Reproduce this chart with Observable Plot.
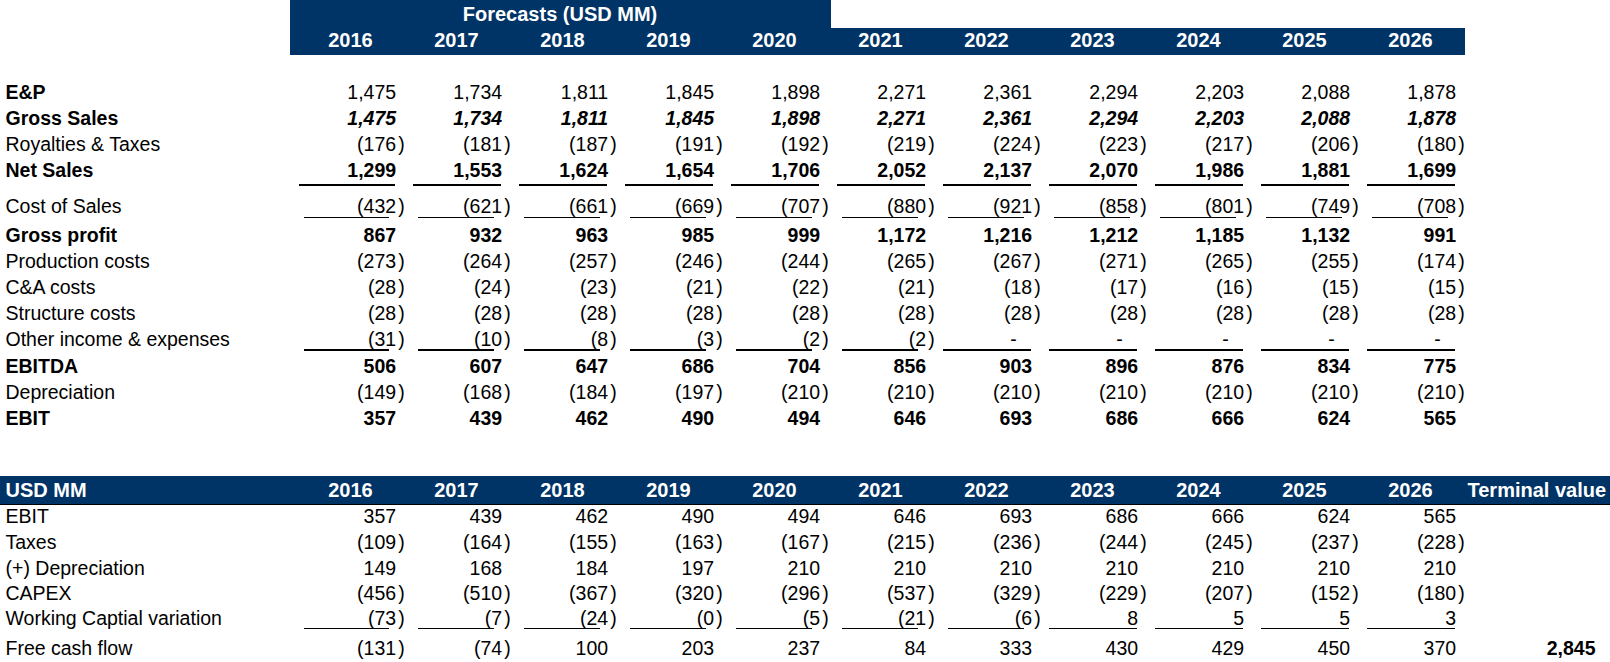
<!DOCTYPE html>
<html>
<head>
<meta charset="utf-8">
<script src="https://cdn.jsdelivr.net/npm/d3@7"></script>
<script src="https://cdn.jsdelivr.net/npm/@observablehq/plot@0.6"></script>
<style>
  html, body { margin: 0; padding: 0; background: #ffffff; }
</style>
</head>
<body>
<div id="chart"></div>
<script>
// ---------------- DATA ----------------
const years = ["2016", "2017", "2018", "2019", "2020", "2021", "2022", "2023", "2024", "2025", "2026"];
const forecastTitle = "Forecasts (USD MM)";
const lowerHeaderLabel = "USD MM";
const terminalLabel = "Terminal value";

// Upper table (income statement)
const epValues            = [1475, 1734, 1811, 1845, 1898, 2271, 2361, 2294, 2203, 2088, 1878];
const grossSalesValues    = [1475, 1734, 1811, 1845, 1898, 2271, 2361, 2294, 2203, 2088, 1878];
const royaltiesValues     = [-176, -181, -187, -191, -192, -219, -224, -223, -217, -206, -180];
const netSalesValues      = [1299, 1553, 1624, 1654, 1706, 2052, 2137, 2070, 1986, 1881, 1699];
const costOfSalesValues   = [-432, -621, -661, -669, -707, -880, -921, -858, -801, -749, -708];
const grossProfitValues   = [867, 932, 963, 985, 999, 1172, 1216, 1212, 1185, 1132, 991];
const productionValues    = [-273, -264, -257, -246, -244, -265, -267, -271, -265, -255, -174];
const caCostsValues       = [-28, -24, -23, -21, -22, -21, -18, -17, -16, -15, -15];
const structureValues     = [-28, -28, -28, -28, -28, -28, -28, -28, -28, -28, -28];
const otherIncomeValues   = [-31, -10, -8, -3, -2, -2, 0, 0, 0, 0, 0];
const ebitdaValues        = [506, 607, 647, 686, 704, 856, 903, 896, 876, 834, 775];
const depreciationValues  = [-149, -168, -184, -197, -210, -210, -210, -210, -210, -210, -210];
const ebitValues          = [357, 439, 462, 490, 494, 646, 693, 686, 666, 624, 565];

// Lower table (free cash flow)
const taxesValues         = [-109, -164, -155, -163, -167, -215, -236, -244, -245, -237, -228];
const plusDepValues       = [149, 168, 184, 197, 210, 210, 210, 210, 210, 210, 210];
const capexValues         = [-456, -510, -367, -320, -296, -537, -329, -229, -207, -152, -180];
const workingCapValues    = [-73, -7, -24, -0.3, -5, -21, -6, 8, 5, 5, 3];
const fcfValues           = [-131, -74, 100, 203, 237, 84, 333, 430, 429, 450, 370];
const terminalValue       = 2845;

const upperRows = [
  ["E&P", epValues],
  ["Gross Sales", grossSalesValues],
  ["Royalties & Taxes", royaltiesValues],
  ["Net Sales", netSalesValues],
  ["Cost of Sales", costOfSalesValues],
  ["Gross profit", grossProfitValues],
  ["Production costs", productionValues],
  ["C&A costs", caCostsValues],
  ["Structure costs", structureValues],
  ["Other income & expenses", otherIncomeValues],
  ["EBITDA", ebitdaValues],
  ["Depreciation", depreciationValues],
  ["EBIT", ebitValues]
];
const lowerRows = [
  ["EBIT", ebitValues],
  ["Taxes", taxesValues],
  ["(+) Depreciation", plusDepValues],
  ["CAPEX", capexValues],
  ["Working Captial variation", workingCapValues],
  ["Free cash flow", fcfValues]
];

// ---------------- LAYOUT & STYLE ----------------
const navy = "#003366";
const FONT = 19.5;
const HEAD_FONT = 20;
const colW = 106.7, colStart = 286;           // column bands
const rowUnit = 26, firstRowY = 92.5;         // row spacing
const cols = [...years, "TV"];

// extra spacing (in row units) after some rows, like Excel row heights
const gapAfter = {
  upper: {"Net Sales": 0.36, "Cost of Sales": 0.13, "Other income & expenses": 0.05, "EBIT": 1.77},
  lower: {"Taxes": -0.02, "(+) Depreciation": -0.03, "CAPEX": -0.02, "Working Captial variation": 0.12}
};
const boldLabels = new Set(["E&P", "Gross Sales", "Net Sales", "Gross profit", "EBITDA", "EBIT"]);
const valueFont = {"Gross Sales": "bolditalic", "Net Sales": "bold", "Gross profit": "bold", "EBITDA": "bold", "EBIT": "bold"};
const underlines = [
  {table: "upper", label: "Net Sales", strokeWidth: 2, offset: 0.53},
  {table: "upper", label: "Cost of Sales", strokeWidth: 1, offset: 0.44},
  {table: "upper", label: "Other income & expenses", strokeWidth: 2, offset: 0.38},
  {table: "lower", label: "Working Captial variation", strokeWidth: 1, offset: 0.36}
];

const rForecast = -3, rYears = -2;
let r = 0;
const rows = [];
for (const [label, values] of upperRows) {
  rows.push({table: "upper", label, values, r,
             labelBold: boldLabels.has(label), font: valueFont[label] || "normal"});
  r += 1 + (gapAfter.upper[label] || 0);
}
const rLowerHeader = r;
r += 1;
for (const [label, values] of lowerRows) {
  rows.push({table: "lower", label, values, r, labelBold: false, font: "normal"});
  r += 1 + (gapAfter.lower[label] || 0);
}
const rFcf = rows.find(d => d.table === "lower" && d.label === "Free cash flow").r;

const cells = rows.flatMap(row => years.map((col, i) => ({
  col, i, r: row.r, v: row.values[i], font: row.font, table: row.table, label: row.label
})));

const fmt = d3.format(",.0f");
const valueDx = colW / 2 - 0.7;   // right edge of numbers inside the band

function valueMarks(font) {
  const fontWeight = font === "normal" ? "normal" : "bold";
  const fontStyle = font === "bolditalic" ? "italic" : "normal";
  const base = {x: "col", y: "r", fontSize: FONT, fontWeight, fontStyle, fill: "#000"};
  const sel = cells.filter(c => c.font === font);
  return [
    Plot.text(sel.filter(c => c.v > 0), {...base, text: d => fmt(d.v), textAnchor: "end", dx: valueDx}),
    Plot.text(sel.filter(c => c.v < 0), {...base, text: d => "(" + fmt(-d.v), textAnchor: "end", dx: valueDx}),
    Plot.text(sel.filter(c => c.v < 0), {...base, text: () => ")", textAnchor: "start", dx: valueDx + 2.2}),
    Plot.text(sel.filter(c => c.v === 0), {...base, text: () => "-", textAnchor: "end", dx: colW / 2 - 16})
  ];
}

function underlineMarks() {
  const marks = [];
  for (const u of underlines) {
    const sel = cells.filter(c => c.table === u.table && c.label === u.label);
    const groups = [
      {f: c => c.v >= 0 && c.i > 0, insetLeft: 17, insetRight: 0.7},
      {f: c => c.v >= 0 && c.i === 0, insetLeft: 9, insetRight: 0.7},
      {f: c => c.v < 0 && c.i > 0, insetLeft: 22, insetRight: 7.7},
      {f: c => c.v < 0 && c.i === 0, insetLeft: 14, insetRight: 6.7}
    ];
    for (const g of groups) {
      marks.push(Plot.tickY(sel.filter(g.f), {
        x: "col", y: d => d.r + u.offset, stroke: "#000", strokeWidth: u.strokeWidth,
        insetLeft: g.insetLeft, insetRight: g.insetRight, shapeRendering: "crispEdges"
      }));
    }
  }
  return marks;
}

const headerText = {fontSize: HEAD_FONT, fontWeight: "bold", fill: "#fff"};
const forecastCols = years.slice(0, 5);

const chart = Plot.plot({
  width: 1610,
  height: 662,
  margin: 0,
  x: {type: "band", domain: cols, range: [colStart, colStart + cols.length * colW], padding: 0, axis: null},
  y: {type: "linear", domain: [0, 1], range: [firstRowY, firstRowY + rowUnit], axis: null},
  style: {fontFamily: "'Liberation Sans', Arial, sans-serif", fontSize: FONT + "px", background: "#fff", color: "#000"},
  marks: [
    // upper header: forecasts box + years bar
    Plot.barY(forecastCols.slice(0, 4), {x: d => d, y1: rForecast - 0.5, y2: rForecast + 0.5, fill: navy, insetTop: -1.5, shapeRendering: "crispEdges"}),
    Plot.barY(forecastCols.slice(4), {x: d => d, y1: rForecast - 0.5, y2: rForecast + 0.5, fill: navy, insetTop: -1.5, insetRight: -10.5, shapeRendering: "crispEdges"}),
    Plot.barY(years.slice(0, 10), {x: d => d, y1: rYears - 0.5, y2: rYears + 0.5, fill: navy, insetBottom: -1.5, shapeRendering: "crispEdges"}),
    Plot.barY(years.slice(10), {x: d => d, y1: rYears - 0.5, y2: rYears + 0.5, fill: navy, insetBottom: -1.5, insetRight: -9.3, shapeRendering: "crispEdges"}),
    // lower header full-width bar
    Plot.rect([lowerHeaderLabel], {y1: rLowerHeader - 0.5, y2: rLowerHeader + 0.5, fill: navy, insetTop: -1.5, shapeRendering: "crispEdges"}),
    Plot.ruleY([rLowerHeader + 0.5], {stroke: "#000", strokeWidth: 1, shapeRendering: "crispEdges"}),

    // header texts
    Plot.text([forecastTitle], {...headerText, x: () => years[2], y: rForecast, text: d => d, dx: 4.5}),
    Plot.text(years, {...headerText, x: d => d, y: rYears, text: d => d, dx: 7}),
    Plot.text(years, {...headerText, x: d => d, y: rLowerHeader, text: d => d, dx: 7}),
    Plot.text([lowerHeaderLabel], {...headerText, frameAnchor: "left", y: rLowerHeader, text: d => d, textAnchor: "start", dx: 5}),
    Plot.text([terminalLabel], {...headerText, x: () => "TV", y: rLowerHeader, text: d => d, textAnchor: "start", dx: -42}),

    // underlines
    ...underlineMarks(),

    // row labels
    Plot.text(rows.filter(d => d.labelBold), {frameAnchor: "left", y: "r", text: "label", textAnchor: "start", dx: 5, fontSize: FONT, fontWeight: "bold", fill: "#000"}),
    Plot.text(rows.filter(d => !d.labelBold), {frameAnchor: "left", y: "r", text: "label", textAnchor: "start", dx: 5, fontSize: FONT, fontWeight: "normal", fill: "#000"}),

    // values
    ...valueMarks("normal"),
    ...valueMarks("bold"),
    ...valueMarks("bolditalic"),

    // terminal value
    Plot.text([terminalValue], {x: () => "TV", y: rFcf, text: d => fmt(d), textAnchor: "end", dx: 86, fontSize: FONT, fontWeight: "bold", fill: "#000"})
  ]
});

document.getElementById("chart").appendChild(chart);
</script>
</body>
</html>
